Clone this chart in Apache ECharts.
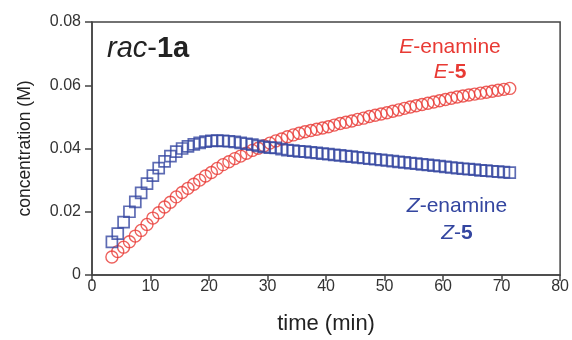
<!DOCTYPE html>
<html>
<head>
<meta charset="utf-8">
<script src="https://cdn.jsdelivr.net/npm/echarts@6/dist/echarts.min.js"></script>
<style>
html,body{margin:0;padding:0;background:#fff;}
#chart{width:572px;height:340px;}
</style>
</head>
<body>
<div id="chart"></div>
<script>
// time points (min)
var timeMin = [3.4,4.4,5.4,6.4,7.4,8.4,9.4,10.4,11.4,12.4,13.4,14.4,15.4,16.4,17.4,18.4,19.4,20.4,21.4,22.4,
  23.4,24.4,25.4,26.4,27.4,28.4,29.4,30.4,31.4,32.4,33.4,34.4,35.4,36.4,37.4,38.4,39.4,40.4,41.4,42.4,
  43.4,44.4,45.4,46.4,47.4,48.4,49.4,50.4,51.4,52.4,53.4,54.4,55.4,56.4,57.4,58.4,59.4,60.4,61.4,62.4,
  63.4,64.4,65.4,66.4,67.4,68.4,69.4,70.4,71.4];
// E-enamine E-5 concentration (M)
var eEnamine = [0.0057,0.0074,0.0088,0.0105,0.0123,0.0141,0.0160,0.0180,0.0197,0.0215,0.0230,0.0247,0.0261,0.0274,0.0287,0.0300,0.0313,0.0324,0.0337,0.0349,
  0.0358,0.0368,0.0376,0.0385,0.0394,0.0401,0.0409,0.0417,0.0424,0.0430,0.0437,0.0443,0.0448,0.0453,0.0457,0.0461,0.0465,0.0469,0.0474,0.0479,
  0.0483,0.0487,0.0492,0.0496,0.0501,0.0505,0.0509,0.0513,0.0518,0.0522,0.0527,0.0531,0.0535,0.0539,0.0543,0.0547,0.0551,0.0555,0.0559,0.0563,
  0.0566,0.0569,0.0572,0.0575,0.0578,0.0581,0.0584,0.0587,0.0590];
// Z-enamine Z-5 concentration (M)
var zEnamine = [0.0105,0.0131,0.0167,0.0200,0.0231,0.0260,0.0289,0.0314,0.0338,0.0359,0.0376,0.0390,0.0400,0.0407,0.0413,0.0418,0.0422,0.0424,0.0425,0.0424,
  0.0423,0.0421,0.0418,0.0415,0.0412,0.0408,0.0405,0.0403,0.0402,0.0398,0.0395,0.0393,0.0391,0.0390,0.0388,0.0386,0.0384,0.0382,0.0380,0.0378,
  0.0376,0.0374,0.0372,0.0370,0.0368,0.0366,0.0364,0.0362,0.0360,0.0358,0.0356,0.0354,0.0352,0.0350,0.0348,0.0346,0.0344,0.0342,0.0340,0.0338,
  0.0336,0.0335,0.0333,0.0331,0.0330,0.0328,0.0327,0.0325,0.0324];
var xTicks = [0,10,20,30,40,50,60,70,80];
var yTicks = [0,0.02,0.04,0.06,0.08];

var RED = '#e83a34', BLUE = '#3446a0', AX = '#444', FONT = '"Liberation Sans", Arial, sans-serif';

function pairs(xs, ys){ return xs.map(function(x,i){ return [x, ys[i]]; }); }

var chart = echarts.init(document.getElementById('chart'), null, {renderer:'canvas'});
chart.setOption({
  animation:false,
  backgroundColor:'#fff',
  grid:{left:92, right:9, top:22, bottom:59, show:true, borderColor:AX, borderWidth:1.5, backgroundColor:'transparent'},
  xAxis:{
    type:'value', min:xTicks[0], max:xTicks[xTicks.length-1], interval:10,
    name:'time (min)', nameLocation:'middle', nameGap:38,
    nameTextStyle:{fontFamily:FONT, fontSize:22, color:'#222'},
    axisLine:{show:true, lineStyle:{color:AX, width:1.5}},
    axisTick:{show:true, length:6, inside:false, lineStyle:{color:AX, width:1.5}},
    axisLabel:{fontFamily:FONT, fontSize:16, color:'#333', margin:4},
    splitLine:{show:false}
  },
  yAxis:{
    type:'value', min:yTicks[0], max:yTicks[yTicks.length-1], interval:0.02,
    name:'concentration (M)', nameLocation:'middle', nameGap:58, nameRotate:90,
    nameTextStyle:{fontFamily:FONT, fontSize:17.5, color:'#222'},
    axisLine:{show:true, lineStyle:{color:AX, width:1.5}},
    axisTick:{show:true, length:7, inside:false, lineStyle:{color:AX, width:1.5}},
    axisLabel:{fontFamily:FONT, fontSize:16, color:'#333', margin:11,
      formatter:function(v){ return v===0 ? '0' : v.toFixed(2); }},
    splitLine:{show:false}
  },
  series:[
    {type:'scatter', name:'E-5', data:pairs(timeMin, eEnamine), symbol:'circle', symbolSize:12,
      itemStyle:{color:'rgba(0,0,0,0)', borderColor:RED, borderWidth:1.4}},
    {type:'scatter', name:'Z-5', data:pairs(timeMin, zEnamine), symbol:'rect', symbolSize:11,
      itemStyle:{color:'rgba(0,0,0,0)', borderColor:BLUE, borderWidth:1.7}}
  ],
  graphic:[
    {type:'text', x:107, y:49, style:{text:'{i|rac}{n|-}{b|1a}', verticalAlign:'middle', align:'left',
      rich:{i:{fontFamily:FONT, fontSize:29, fontStyle:'italic', fill:'#222'}, n:{fontFamily:FONT, fontSize:29, fill:'#222'}, b:{fontFamily:FONT, fontSize:29, fontWeight:'bold', fill:'#222'}}}},
    {type:'text', x:450, y:47, style:{text:'{i|E}{n|-enamine}', align:'center', verticalAlign:'middle',
      rich:{i:{fontFamily:FONT, fontSize:21, fontStyle:'italic', fill:RED}, n:{fontFamily:FONT, fontSize:21, fill:RED}}}},
    {type:'text', x:450, y:72, style:{text:'{i|E}{n|-}{b|5}', align:'center', verticalAlign:'middle',
      rich:{i:{fontFamily:FONT, fontSize:21, fontStyle:'italic', fill:RED}, n:{fontFamily:FONT, fontSize:21, fill:RED}, b:{fontFamily:FONT, fontSize:21, fontWeight:'bold', fill:RED}}}},
    {type:'text', x:457, y:206, style:{text:'{i|Z}{n|-enamine}', align:'center', verticalAlign:'middle',
      rich:{i:{fontFamily:FONT, fontSize:21, fontStyle:'italic', fill:BLUE}, n:{fontFamily:FONT, fontSize:21, fill:BLUE}}}},
    {type:'text', x:457, y:233, style:{text:'{i|Z}{n|-}{b|5}', align:'center', verticalAlign:'middle',
      rich:{i:{fontFamily:FONT, fontSize:21, fontStyle:'italic', fill:BLUE}, n:{fontFamily:FONT, fontSize:21, fill:BLUE}, b:{fontFamily:FONT, fontSize:21, fontWeight:'bold', fill:BLUE}}}}
  ]
});
</script>
</body>
</html>
